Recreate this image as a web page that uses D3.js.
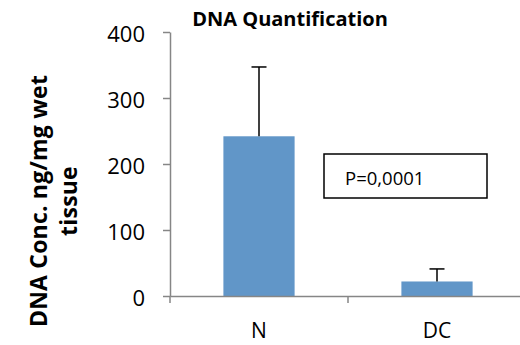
<!DOCTYPE html>
<html>
<head>
<meta charset="utf-8">
<script src="https://cdn.jsdelivr.net/npm/d3@7"></script>
<style>
  body { margin: 0; background: #fff; }
  svg { display: block; font-family: "Open Sans", Lato, sans-serif; }
</style>
</head>
<body>
<svg id="chart" width="520" height="345"></svg>
<script>
var categories = ["N", "DC"];
var means = [242, 22];
var errors = [105, 19];
var yTicks = [0, 100, 200, 300, 400];
var pLabel = "P=0,0001";

var svg = d3.select("#chart");

var x = d3.scaleBand()
    .domain(categories)
    .range([170, 526])
    .paddingInner(0.6)
    .paddingOuter(0.3);

var y = d3.scaleLinear()
    .domain([0, 400])
    .range([296, 32]);

// y axis
var yAxis = svg.append("g")
    .attr("transform", "translate(170,0)")
    .call(d3.axisLeft(y).tickValues(yTicks).tickSize(7).tickSizeOuter(0).tickPadding(18));
yAxis.select(".domain").attr("stroke", "#868686").attr("stroke-width", 1.5);
yAxis.selectAll(".tick line").attr("stroke", "#868686").attr("stroke-width", 1.5);
yAxis.selectAll(".tick text")
    .attr("font-size", 22)
    .attr("font-family", "'Open Sans', Lato, sans-serif")
    .attr("fill", "#000")
    .attr("dy", "0.42em");

// bars
svg.append("g").selectAll("rect")
    .data(categories)
    .join("rect")
    .attr("x", d => x(d))
    .attr("width", x.bandwidth())
    .attr("y", (d, i) => y(means[i]))
    .attr("height", (d, i) => y(0) - y(means[i]))
    .attr("fill", "#6196c8");

// error bars
var eb = svg.append("g").attr("stroke", "#000").attr("stroke-width", 1.5);
eb.selectAll("line.stem")
    .data(categories)
    .join("line")
    .attr("class", "stem")
    .attr("x1", d => x(d) + x.bandwidth() / 2)
    .attr("x2", d => x(d) + x.bandwidth() / 2)
    .attr("y1", (d, i) => y(means[i]))
    .attr("y2", (d, i) => y(means[i] + errors[i]));
eb.selectAll("line.cap")
    .data(categories)
    .join("line")
    .attr("class", "cap")
    .attr("x1", d => x(d) + x.bandwidth() / 2 - 7.5)
    .attr("x2", d => x(d) + x.bandwidth() / 2 + 7.5)
    .attr("y1", (d, i) => y(means[i] + errors[i]))
    .attr("y2", (d, i) => y(means[i] + errors[i]));

// x axis
var xAxis = svg.append("g")
    .attr("transform", "translate(0," + y(0) + ")")
    .call(d3.axisBottom(x).tickSize(0).tickPadding(27));
xAxis.select(".domain").attr("stroke", "#868686").attr("stroke-width", 1.5);
xAxis.selectAll(".tick text")
    .attr("font-size", 21)
    .attr("font-family", "'Open Sans', Lato, sans-serif")
    .attr("fill", "#000");
// category boundary ticks
xAxis.selectAll("line.bound")
    .data(d3.range(categories.length + 1))
    .join("line")
    .attr("class", "bound")
    .attr("x1", i => x.range()[0] + i * x.step())
    .attr("x2", i => x.range()[0] + i * x.step())
    .attr("y1", 0)
    .attr("y2", 7)
    .attr("stroke", "#868686")
    .attr("stroke-width", 1.5);

// title
svg.append("text")
    .attr("x", 290)
    .attr("y", 26)
    .attr("text-anchor", "middle")
    .attr("font-weight", "bold")
    .attr("font-size", 20)
    .text("DNA Quantification");

// y axis title
var yt = svg.append("text")
    .attr("transform", "translate(47,201) rotate(-90)")
    .attr("text-anchor", "middle")
    .attr("font-weight", "bold")
    .attr("font-size", 23)
    .attr("letter-spacing", 0.2);
yt.append("tspan").attr("x", 0).attr("y", 0).text("DNA Conc. ng/mg wet");
yt.append("tspan").attr("x", 0).attr("y", 30).text("tissue");

// p-value box
svg.append("rect")
    .attr("x", 324)
    .attr("y", 154)
    .attr("width", 163)
    .attr("height", 44)
    .attr("fill", "#fff")
    .attr("stroke", "#000")
    .attr("stroke-width", 1.5);
svg.append("text")
    .attr("x", 345)
    .attr("y", 185)
    .attr("font-size", 18.5)
    .text(pLabel);
</script>
</body>
</html>
